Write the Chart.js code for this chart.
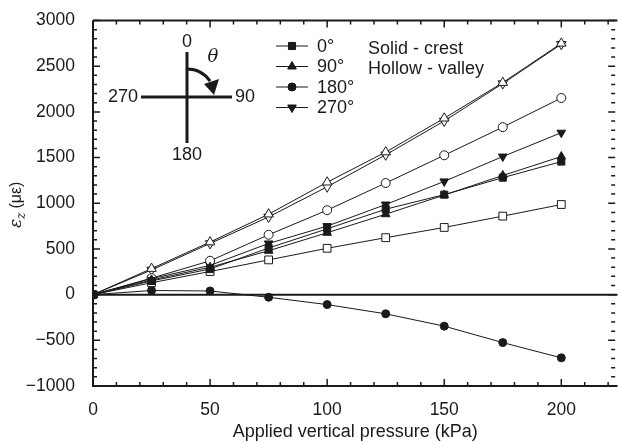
<!DOCTYPE html>
<html>
<head>
<meta charset="utf-8">
<script src="https://cdn.jsdelivr.net/npm/chart.js@4.4.1/dist/chart.umd.min.js"></script>
<style>
  html, body { margin: 0; background: #fff; overflow: hidden; }
  #wrap { width: 624px; height: 443px; }
</style>
</head>
<body>
<div id="wrap"><canvas id="strain"></canvas></div>
<script>
// applied vertical pressure (kPa)
const pressure = [0, 25, 50, 75, 100, 125, 150, 175, 200];

// strain readings (micro-strain) - solid = crest, hollow = valley
const crest0   = [0, 150, 280, 510, 720, 935, 1094, 1280, 1456];
const valley0  = [0, 130, 253, 380, 507, 623, 735, 859, 986];
const crest90  = [0, 160, 300, 480, 677, 880, 1090, 1304, 1511];
const valley90 = [0, 285, 575, 880, 1230, 1560, 1930, 2320, 2750];
const crest180  = [0, 45, 40, -29, -109, -210, -345, -525, -692];
const valley180 = [0, 180, 370, 655, 924, 1221, 1525, 1833, 2152];
const crest270  = [0, 175, 320, 560, 750, 986, 1239, 1511, 1772];
const valley270 = [0, 270, 560, 850, 1180, 1530, 1900, 2310, 2740];

const angleLabels = ['0°', '90°', '180°', '270°'];
const yTicks = [-1000, -500, 0, 500, 1000, 1500, 2000, 2500, 3000];
const xTicks = [0, 50, 100, 150, 200];

const FONT = '"Liberation Sans", Arial, sans-serif';
const INK = '#1a1a1a';

function pts(vals) {
    return pressure.map((p, i) => ({ x: p, y: vals[i] }));
}

function series(label, vals, style, hollow, rot, r) {
    return {
        label: label,
        data: pts(vals),
        borderColor: INK,
        borderWidth: 1,
        backgroundColor: hollow ? '#fff' : INK,
        pointStyle: style,
        pointRotation: rot || 0,
        pointRadius: r,
        pointBorderWidth: 1,
        pointBorderColor: INK,
        pointBackgroundColor: hollow ? '#fff' : INK,
        tension: 0,
        fill: false
    };
}

// legend + compass + inward ticks, drawn on canvas
const decor = {
    id: 'decor',
    beforeDatasetsDraw(chart) {
        const ctx = chart.ctx, a = chart.chartArea, ys = chart.scales.y;
        const y0 = ys.getPixelForValue(0);
        ctx.save();
        ctx.strokeStyle = INK;
        ctx.lineWidth = 2;
        ctx.beginPath();
        ctx.moveTo(a.left, y0);
        ctx.lineTo(a.right, y0);
        ctx.stroke();
        ctx.restore();
    },
    afterDraw(chart) {
        const ctx = chart.ctx, a = chart.chartArea;
        const xs = chart.scales.x, ys = chart.scales.y;
        ctx.save();
        ctx.strokeStyle = INK;
        ctx.fillStyle = INK;

        // frame (left, bottom, top)
        ctx.lineWidth = 2;
        ctx.beginPath();
        ctx.moveTo(a.left, a.top);
        ctx.lineTo(a.left, a.bottom);
        ctx.lineTo(a.right, a.bottom);
        ctx.moveTo(a.left, a.top);
        ctx.lineTo(a.right, a.top);
        ctx.stroke();

        // y ticks every 100 (right side ones sit at the window edge)
        const rx = xs.getPixelForValue(223);
        ctx.lineWidth = 1.5;
        for (let v = -1000; v <= 3000; v += 100) {
            const y = ys.getPixelForValue(v);
            const len = v % 500 === 0 ? 7 : 4;
            ctx.beginPath();
            ctx.moveTo(a.left, y);
            ctx.lineTo(a.left + len, y);
            ctx.moveTo(rx, y);
            ctx.lineTo(rx - len, y);
            ctx.stroke();
        }
        // x ticks every 10
        for (let v = 0; v <= xs.max; v += 10) {
            const x = xs.getPixelForValue(v);
            const len = v % 50 === 0 ? 7 : 4;
            ctx.beginPath();
            ctx.moveTo(x, a.bottom);
            ctx.lineTo(x, a.bottom - len);
            ctx.moveTo(x, a.top);
            ctx.lineTo(x, a.top + len);
            ctx.stroke();
        }

        // y title: eps_z (micro eps)
        ctx.save();
        ctx.translate(21, 228);
        ctx.rotate(-Math.PI / 2);
        ctx.textBaseline = 'alphabetic';
        ctx.textAlign = 'left';
        ctx.font = 'italic 17px "DejaVu Serif", serif';
        ctx.fillText('ε', 0, 0);
        let w = ctx.measureText('ε').width;
        ctx.font = 'italic 12px "DejaVu Serif", serif';
        ctx.fillText('z', w, 4);
        w += ctx.measureText('z').width + 4;
        ctx.font = '16px ' + FONT;
        ctx.fillText('(με)', w, 0);
        ctx.restore();

        // legend
        const rows = chart.data.datasets.filter((d, i) => i % 2 === 0);
        ctx.font = '18px ' + FONT;
        ctx.textBaseline = 'middle';
        ctx.textAlign = 'left';
        const ly = [46, 66.5, 87, 107.5];
        rows.forEach((d, i) => {
            ctx.lineWidth = 1;
            ctx.beginPath();
            ctx.moveTo(276, ly[i]);
            ctx.lineTo(308, ly[i]);
            ctx.stroke();
            Chart.helpers.drawPoint(ctx, {
                pointStyle: d.pointStyle, rotation: d.pointRotation,
                radius: d.pointStyle === 'rect' ? 5 : d.pointRadius, borderWidth: 1
            }, 292, ly[i]);
            ctx.fill();
            ctx.fillText(angleLabels[i], 317, ly[i] + 1);
        });
        ctx.fillText('Solid - crest', 368, 49);
        ctx.fillText('Hollow - valley', 368, 69);

        // orientation sketch
        ctx.lineWidth = 3;
        ctx.lineCap = 'butt';
        ctx.beginPath();
        ctx.moveTo(187, 52);
        ctx.lineTo(187, 143);
        ctx.moveTo(141, 97);
        ctx.lineTo(232, 97);
        ctx.stroke();
        ctx.beginPath();
        ctx.arc(187, 97, 28, -Math.PI / 2, -0.6);
        ctx.stroke();
        ctx.beginPath();
        ctx.moveTo(204, 84);
        ctx.lineTo(219, 79);
        ctx.lineTo(214, 95);
        ctx.closePath();
        ctx.fill();
        ctx.textBaseline = 'middle';
        ctx.textAlign = 'center';
        ctx.fillText('0', 187, 42);
        ctx.fillText('180', 187, 155);
        ctx.textAlign = 'right';
        ctx.fillText('270', 138, 97);
        ctx.textAlign = 'left';
        ctx.fillText('90', 235, 97);
        ctx.textAlign = 'center';
        ctx.font = 'italic 18px "DejaVu Serif", serif';
        ctx.fillText('θ', 213, 57);
        ctx.restore();
    }
};

new Chart(document.getElementById('strain'), {
    type: 'line',
    plugins: [decor],
    data: {
        datasets: [
            series('0° crest', crest0, 'rect', false, 0, 5),
            series('0° valley', valley0, 'rect', true, 0, 5.5),
            series('90° crest', crest90, 'triangle', false, 0, 5),
            series('90° valley', valley90, 'triangle', true, 0, 5.5),
            series('180° crest', crest180, 'circle', false, 0, 4),
            series('180° valley', valley180, 'circle', true, 0, 4.5),
            series('270° crest', crest270, 'triangle', false, 180, 5),
            series('270° valley', valley270, 'triangle', true, 180, 5.5)
        ]
    },
    options: {
        responsive: true,
        maintainAspectRatio: false,
        animation: false,
        layout: { padding: { top: 19, right: 0, left: 0, bottom: 0 } },
        plugins: {
            legend: { display: false },
            tooltip: { enabled: false }
        },
        scales: {
            x: {
                type: 'linear',
                min: 0,
                max: 224,
                grid: { display: false },
                border: { display: false },
                afterFit: s => { s.height = 57; },
                afterBuildTicks: s => { s.ticks = xTicks.map(v => ({ value: v })); },
                ticks: {
                    color: INK,
                    padding: 6,
                    maxRotation: 0,
                    font: { family: FONT, size: 17.5 }
                },
                title: {
                    display: true,
                    text: 'Applied vertical pressure (kPa)',
                    color: INK,
                    padding: { top: 3, bottom: 0 },
                    font: { family: FONT, size: 18 }
                }
            },
            y: {
                min: -1000,
                max: 3000,
                grid: { display: false },
                border: { display: false },
                afterFit: s => { s.width = 93; },
                afterBuildTicks: s => { s.ticks = yTicks.map(v => ({ value: v })); },
                ticks: {
                    color: INK,
                    padding: 10,
                    font: { family: FONT, size: 17.5 },
                    callback: v => v < 0 ? '\u2212' + Math.abs(v) : String(v)
                }
            }
        }
    }
});
</script>
</body>
</html>
